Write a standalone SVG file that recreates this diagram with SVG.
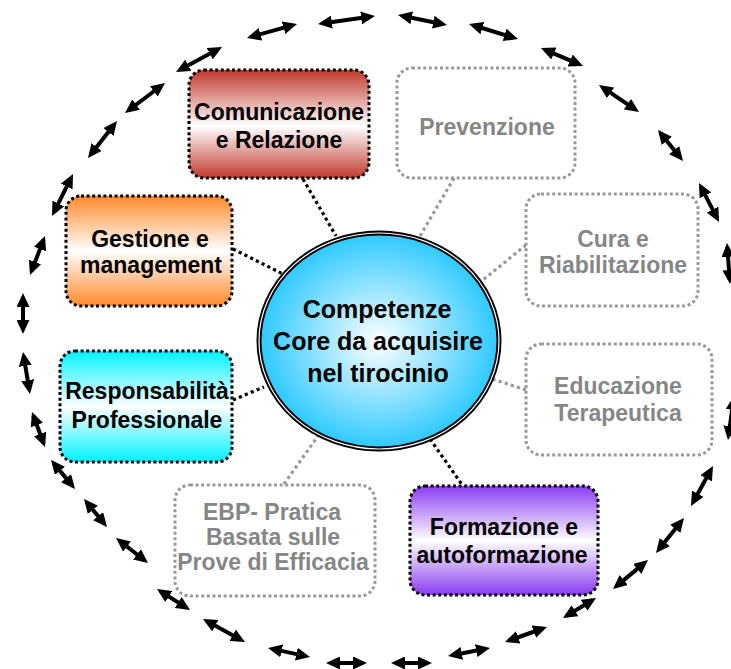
<svg xmlns="http://www.w3.org/2000/svg" width="731" height="669" viewBox="0 0 731 669">
<defs>
<linearGradient id="gRed" x1="0" y1="0" x2="0" y2="1"><stop offset="0" stop-color="#C0392B"/><stop offset="0.52" stop-color="#FFFFFF"/><stop offset="1" stop-color="#C0392B"/></linearGradient>
<linearGradient id="gOra" x1="0" y1="0" x2="0" y2="1"><stop offset="0" stop-color="#FF8A2A"/><stop offset="0.5" stop-color="#FFFFFF"/><stop offset="1" stop-color="#FF8A2A"/></linearGradient>
<linearGradient id="gCya" x1="0" y1="0" x2="0" y2="1"><stop offset="0" stop-color="#00F2FF"/><stop offset="0.5" stop-color="#FFFFFF"/><stop offset="1" stop-color="#00F2FF"/></linearGradient>
<linearGradient id="gPur" x1="0" y1="0" x2="0" y2="1"><stop offset="0" stop-color="#8A3CF0"/><stop offset="0.5" stop-color="#FFFFFF"/><stop offset="1" stop-color="#8A3CF0"/></linearGradient>
<radialGradient id="gBlue" cx="0.5" cy="0.5" r="0.5"><stop offset="0" stop-color="#FFFFFF"/><stop offset="1" stop-color="#2CC9FF"/></radialGradient>
<marker id="ah" viewBox="0 0 14 13" refX="14" refY="6.5" markerWidth="14" markerHeight="13" markerUnits="userSpaceOnUse" orient="auto-start-reverse"><path d="M0,0 L14,6.5 L0,13 Z" fill="#000"/></marker>
</defs>
<style>
.t{font-family:"Liberation Sans",Arial,sans-serif;font-weight:bold;font-size:23px;text-anchor:middle}
.tb{fill:#000}
.tg{fill:#868686}
.bx{stroke-width:3;stroke-dasharray:3 2.6}
.bk{stroke:#000}
.gy{stroke:#999;fill:#fff}
.dl{fill:none;stroke-width:3.2;stroke-dasharray:3.2 3.2}
.ring path{fill:none;stroke:#000;stroke-width:4;stroke-dasharray:0 10 80 10;marker-start:url(#ah);marker-end:url(#ah)}
</style>
<rect width="731" height="669" fill="#fff"/>
<g id="ring" class="ring">
<path pathLength="100" d="M23,334L23,293"/>
<path pathLength="100" d="M30,275L45,236"/>
<path pathLength="100" d="M52,216L73,174"/>
<path pathLength="100" d="M88,158L117,121"/>
<path pathLength="100" d="M125,113L165,83"/>
<path pathLength="100" d="M176,72L222,47"/>
<path pathLength="100" d="M247,38L297,24"/>
<path pathLength="100" d="M318,24L375,16"/>
<path pathLength="100" d="M398,15L447,25"/>
<path pathLength="100" d="M469,24L518,39"/>
<path pathLength="100" d="M541,48L583,66"/>
<path pathLength="100" d="M599,85L639,112"/>
<path pathLength="100" d="M658,130L683,161"/>
<path pathLength="100" d="M699,183L719,222"/>
<path pathLength="100" d="M727,243L730,284"/>
<path pathLength="100" d="M734,396L728,440"/>
<path pathLength="100" d="M713,466L691,506"/>
<path pathLength="100" d="M684,518L656,553"/>
<path pathLength="100" d="M648,560L613,589"/>
<path pathLength="100" d="M596,598L563,618"/>
<path pathLength="100" d="M547,627L505,642"/>
<path pathLength="100" d="M490,648L448,656"/>
<path pathLength="100" d="M432,663L391,663"/>
<path pathLength="100" d="M367,663L326,663"/>
<path pathLength="100" d="M310,657L268,648"/>
<path pathLength="100" d="M245,642L203,619"/>
<path pathLength="100" d="M190,610L157,589"/>
<path pathLength="100" d="M148,563L116,538"/>
<path pathLength="100" d="M107,527L84,499"/>
<path pathLength="100" d="M75,489L51,460"/>
<path pathLength="100" d="M45,447L32,412"/>
<path pathLength="100" d="M30,394L23,352"/>
</g>
<g id="connectors">
<path class="dl" stroke="#000" d="M303,179L336,236"/>
<path class="dl" stroke="#9a9a9a" d="M454,178L420,236"/>
<path class="dl" stroke="#000" d="M233,249L283,274"/>
<path class="dl" stroke="#9a9a9a" d="M526,245L478,284"/>
<path class="dl" stroke="#000" d="M233,400L264,387"/>
<path class="dl" stroke="#9a9a9a" d="M526,390L489,378"/>
<path class="dl" stroke="#9a9a9a" d="M284,484L318,436"/>
<path class="dl" stroke="#000" d="M430,439L463,486"/>
</g>
<g id="center">
<ellipse cx="379" cy="341" rx="120" ry="108" fill="url(#gBlue)" stroke="#000" stroke-width="5"/>
<ellipse cx="379" cy="341" rx="120" ry="108" fill="none" stroke="#fff" stroke-width="1.2"/>
<text class="t tb" style="font-size:25px" x="377" y="318">Competenze</text>
<text class="t tb" style="font-size:25px" x="378" y="350">Core da acquisire</text>
<text class="t tb" style="font-size:25px" x="378" y="382">nel tirocinio</text>
</g>
<g id="comunicazione">
<rect class="bx bk" x="189" y="70" width="180" height="108" rx="15" fill="url(#gRed)"/>
<text class="t tb" x="279" y="120">Comunicazione</text>
<text class="t tb" x="279" y="148">e Relazione</text>
</g>
<g id="prevenzione">
<rect class="bx gy" x="397" y="68" width="178" height="110" rx="15"/>
<text class="t tg" x="487" y="135">Prevenzione</text>
</g>
<g id="gestione">
<rect class="bx bk" x="66" y="196" width="166" height="110" rx="15" fill="url(#gOra)"/>
<text class="t tb" x="150" y="247">Gestione e</text>
<text class="t tb" x="151" y="273">management</text>
</g>
<g id="cura">
<rect class="bx gy" x="526" y="194" width="172" height="112" rx="15"/>
<text class="t tg" x="613" y="247">Cura e</text>
<text class="t tg" x="613" y="273">Riabilitazione</text>
</g>
<g id="responsabilita">
<rect class="bx bk" x="60" y="351" width="172" height="111" rx="15" fill="url(#gCya)"/>
<text class="t tb" x="147" y="399">Responsabilità</text>
<text class="t tb" x="147" y="428">Professionale</text>
</g>
<g id="educazione">
<rect class="bx gy" x="526" y="344" width="186" height="111" rx="15"/>
<text class="t tg" x="618" y="394">Educazione</text>
<text class="t tg" x="618" y="421">Terapeutica</text>
</g>
<g id="ebp">
<rect class="bx gy" x="175" y="485" width="200" height="111" rx="15"/>
<text class="t tg" x="272" y="520">EBP- Pratica</text>
<text class="t tg" x="273" y="545">Basata sulle</text>
<text class="t tg" x="273" y="570">Prove di Efficacia</text>
</g>
<g id="formazione">
<rect class="bx bk" x="410" y="486" width="188" height="109" rx="15" fill="url(#gPur)"/>
<text class="t tb" x="504" y="535">Formazione e</text>
<text class="t tb" x="502" y="563">autoformazione</text>
</g>
</svg>
